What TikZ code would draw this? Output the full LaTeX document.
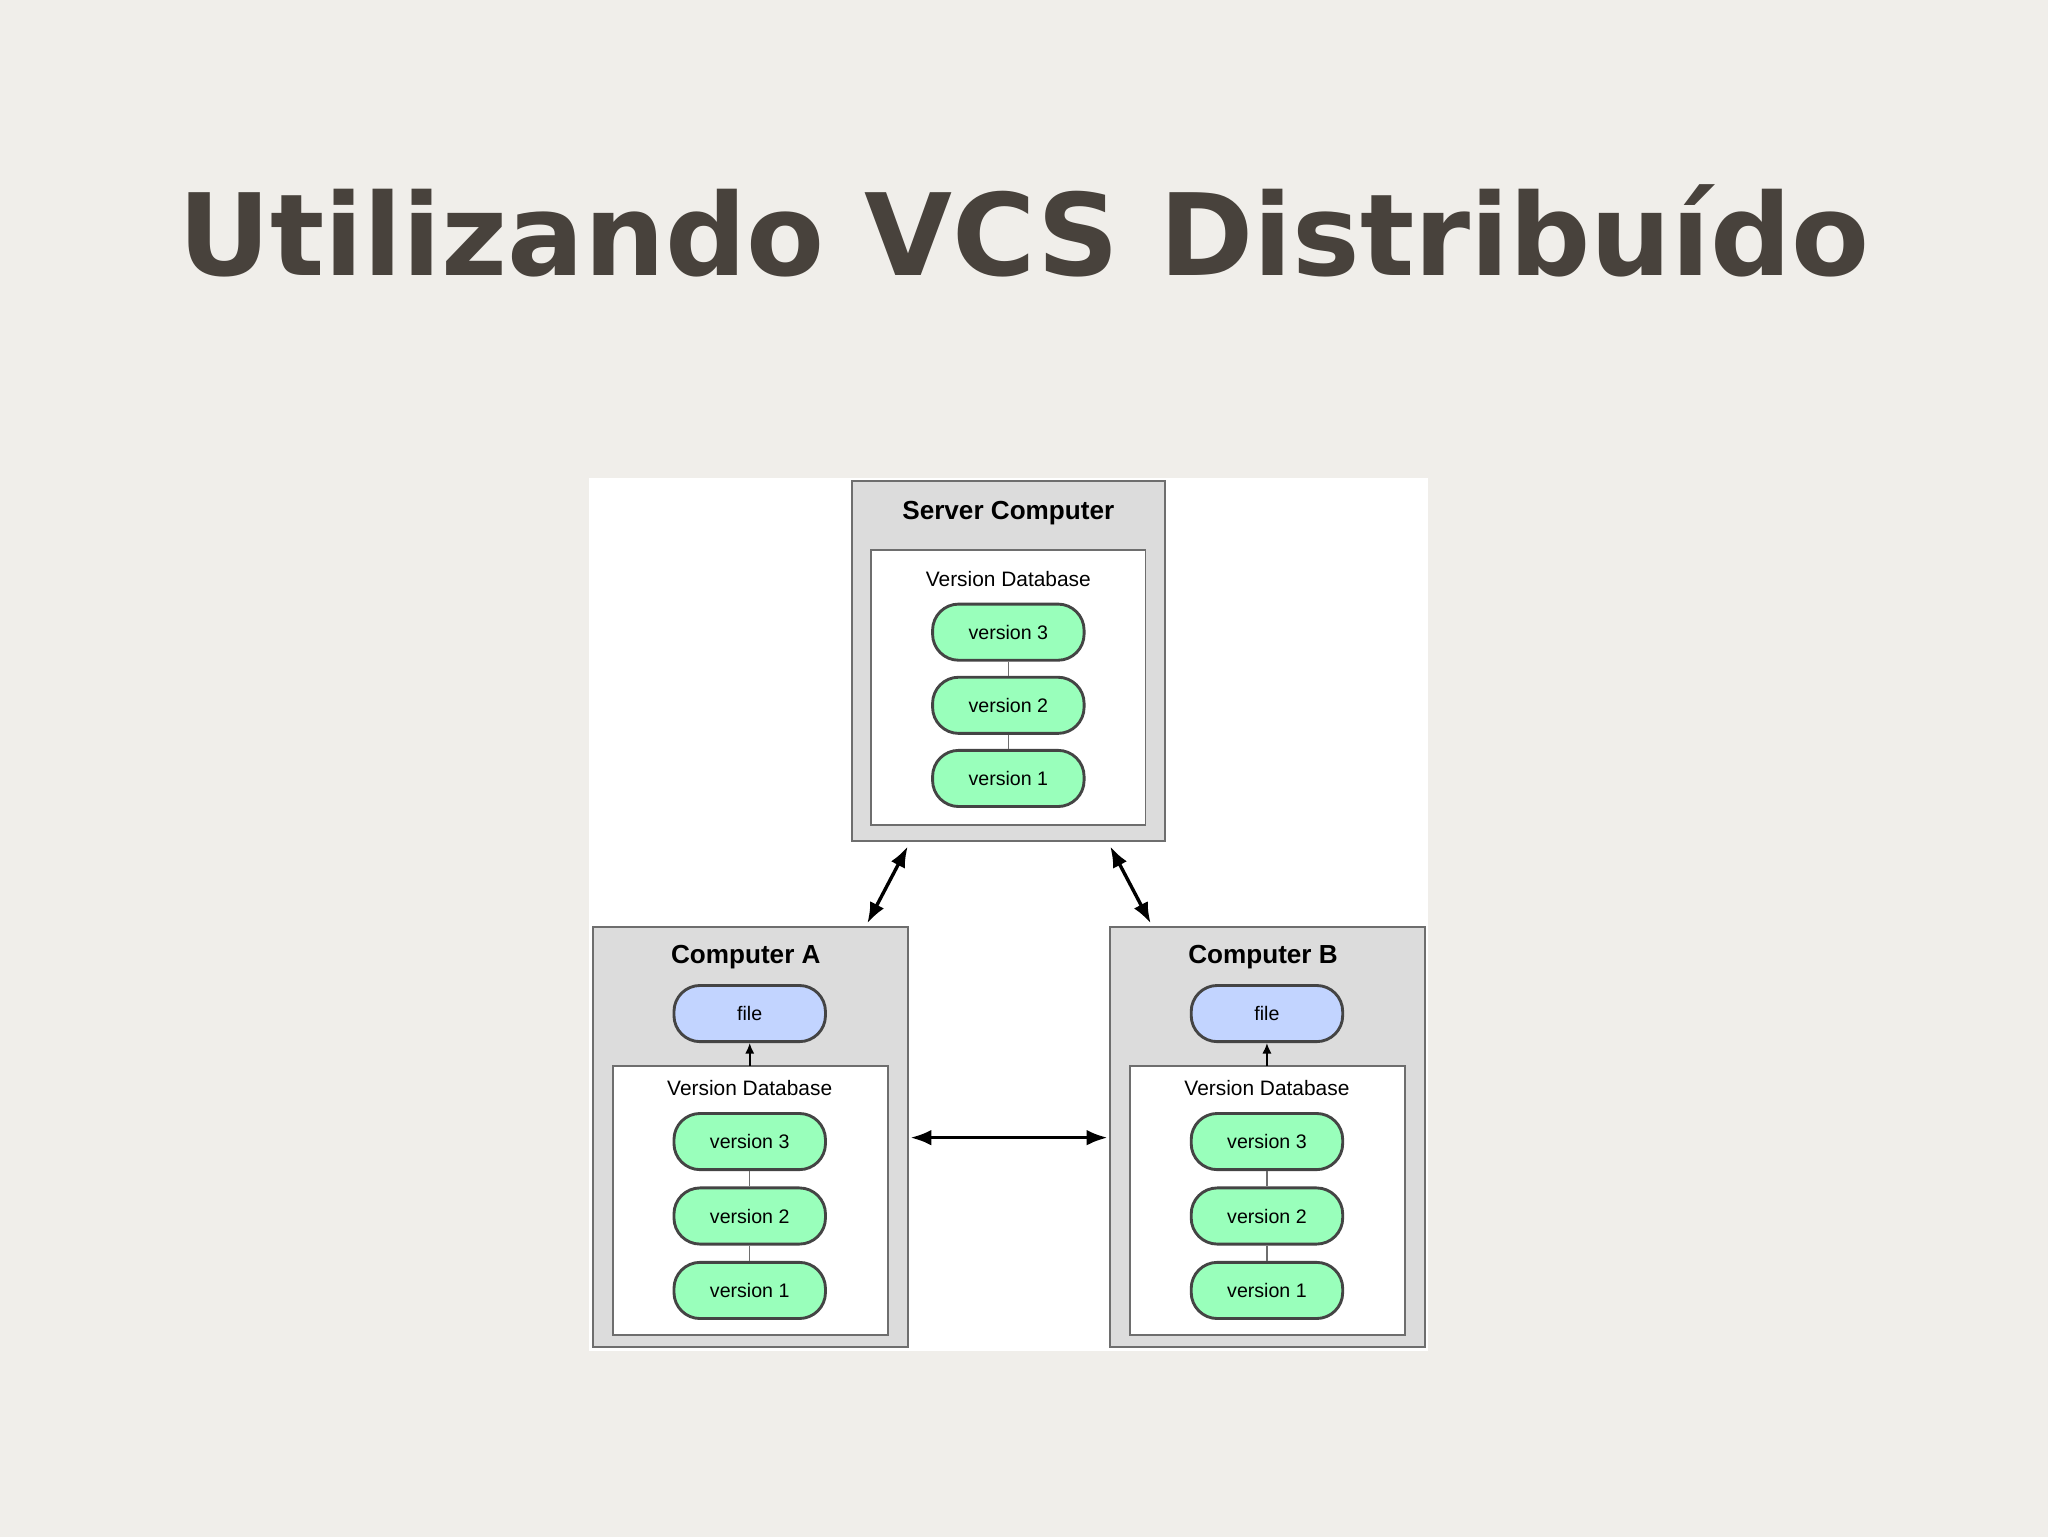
\documentclass[tikz,border=0pt]{standalone}
\usepackage{fontspec}
\setmainfont{Liberation Sans}
\newfontfamily\titlefont{DejaVu Sans}
\usetikzlibrary{arrows.meta}
\definecolor{bg}{HTML}{F0EEEA}
\definecolor{boxg}{HTML}{DCDCDC}
\definecolor{edge}{HTML}{6E6E6E}
\definecolor{pillg}{HTML}{99FFBB}
\definecolor{pillb}{HTML}{C2D4FF}
\definecolor{pedge}{HTML}{444444}
\definecolor{ttl}{HTML}{48423C}
\tikzset{
  outer/.style={draw=edge,line width=1.5pt,fill=boxg},
  inner/.style={draw=edge,line width=1.5pt,fill=white},
  pill/.style={draw=pedge,line width=2.2pt,rounded corners=20pt,minimum width=116pt,minimum height=43pt,font=\fontsize{15}{18}\selectfont,inner sep=0pt},
  vpill/.style={pill,fill=pillg},
  fpill/.style={pill,fill=pillb},
  hd/.style={font=\bfseries\fontsize{20}{24}\selectfont},
  vd/.style={font=\fontsize{16}{19}\selectfont},
  link/.style={draw=edge,line width=1pt},
  big2/.style={{Latex[length=16pt,width=12pt]}-{Latex[length=16pt,width=12pt]},line width=2.6pt,black}
}
\begin{document}
\begin{tikzpicture}[x=1pt,y=-1pt]
\fill[bg] (0,0) rectangle (1568,1177);
\useasboundingbox (0,0) rectangle (1568,1177);
\node[font=\titlefont\bfseries\fontsize{87}{96}\selectfont,text=ttl] (title) at (784,177) {Utilizando VCS Distribuído};
\fill[white] (451,366) rectangle (1093,1034);
% server
\draw[outer] (652,368) rectangle (892,644);
\draw[inner] (667,421) rectangle (877,632);
\node[hd] (st) at (772,393) {Server Computer};
\node[vd] (svd) at (772,443) {Version Database};
\node[vpill] (s3) at (772,484) {version 3};
\node[vpill] (s2) at (772,540) {version 2};
\node[vpill] (s1) at (772,596) {version 1};
\draw[link] (s3) -- (s2); \draw[link] (s2) -- (s1);
\coordinate (sa) at (695,648); \coordinate (sb) at (850,648);
\foreach \n/\x in {a/0,b/396}{
  \begin{scope}[xshift=\x]
  \draw[outer] (454,710) rectangle (695,1031);
  \draw[inner] (469,816) rectangle (680,1022);
  \coordinate (\n top) at (574,816);
  \node[fpill] (\n f) at (574,776) {file};
  \node[vd] (\n vd) at (574,833) {Version Database};
  \node[vpill] (\n3) at (574,874) {version 3};
  \node[vpill] (\n2) at (574,931) {version 2};
  \node[vpill] (\n1) at (574,988) {version 1};
  \draw[link] (\n3) -- (\n2); \draw[link] (\n2) -- (\n1);
  \draw[-{Latex[length=8pt,width=7pt]},line width=1.2pt,black] (\n top) -- (\n f);
  \end{scope}}
\node[hd] (at) at (571,733) {Computer A};
\node[hd] (bt) at (967,733) {Computer B};
\coordinate (as) at (664,707); \coordinate (bs) at (881,707);
\coordinate (ab) at (697,871); \coordinate (ba) at (848,871);
\draw[big2] (sa) -- (as);
\draw[big2] (sb) -- (bs);
\draw[big2] (ab) -- (ba);
\end{tikzpicture}
\end{document}
